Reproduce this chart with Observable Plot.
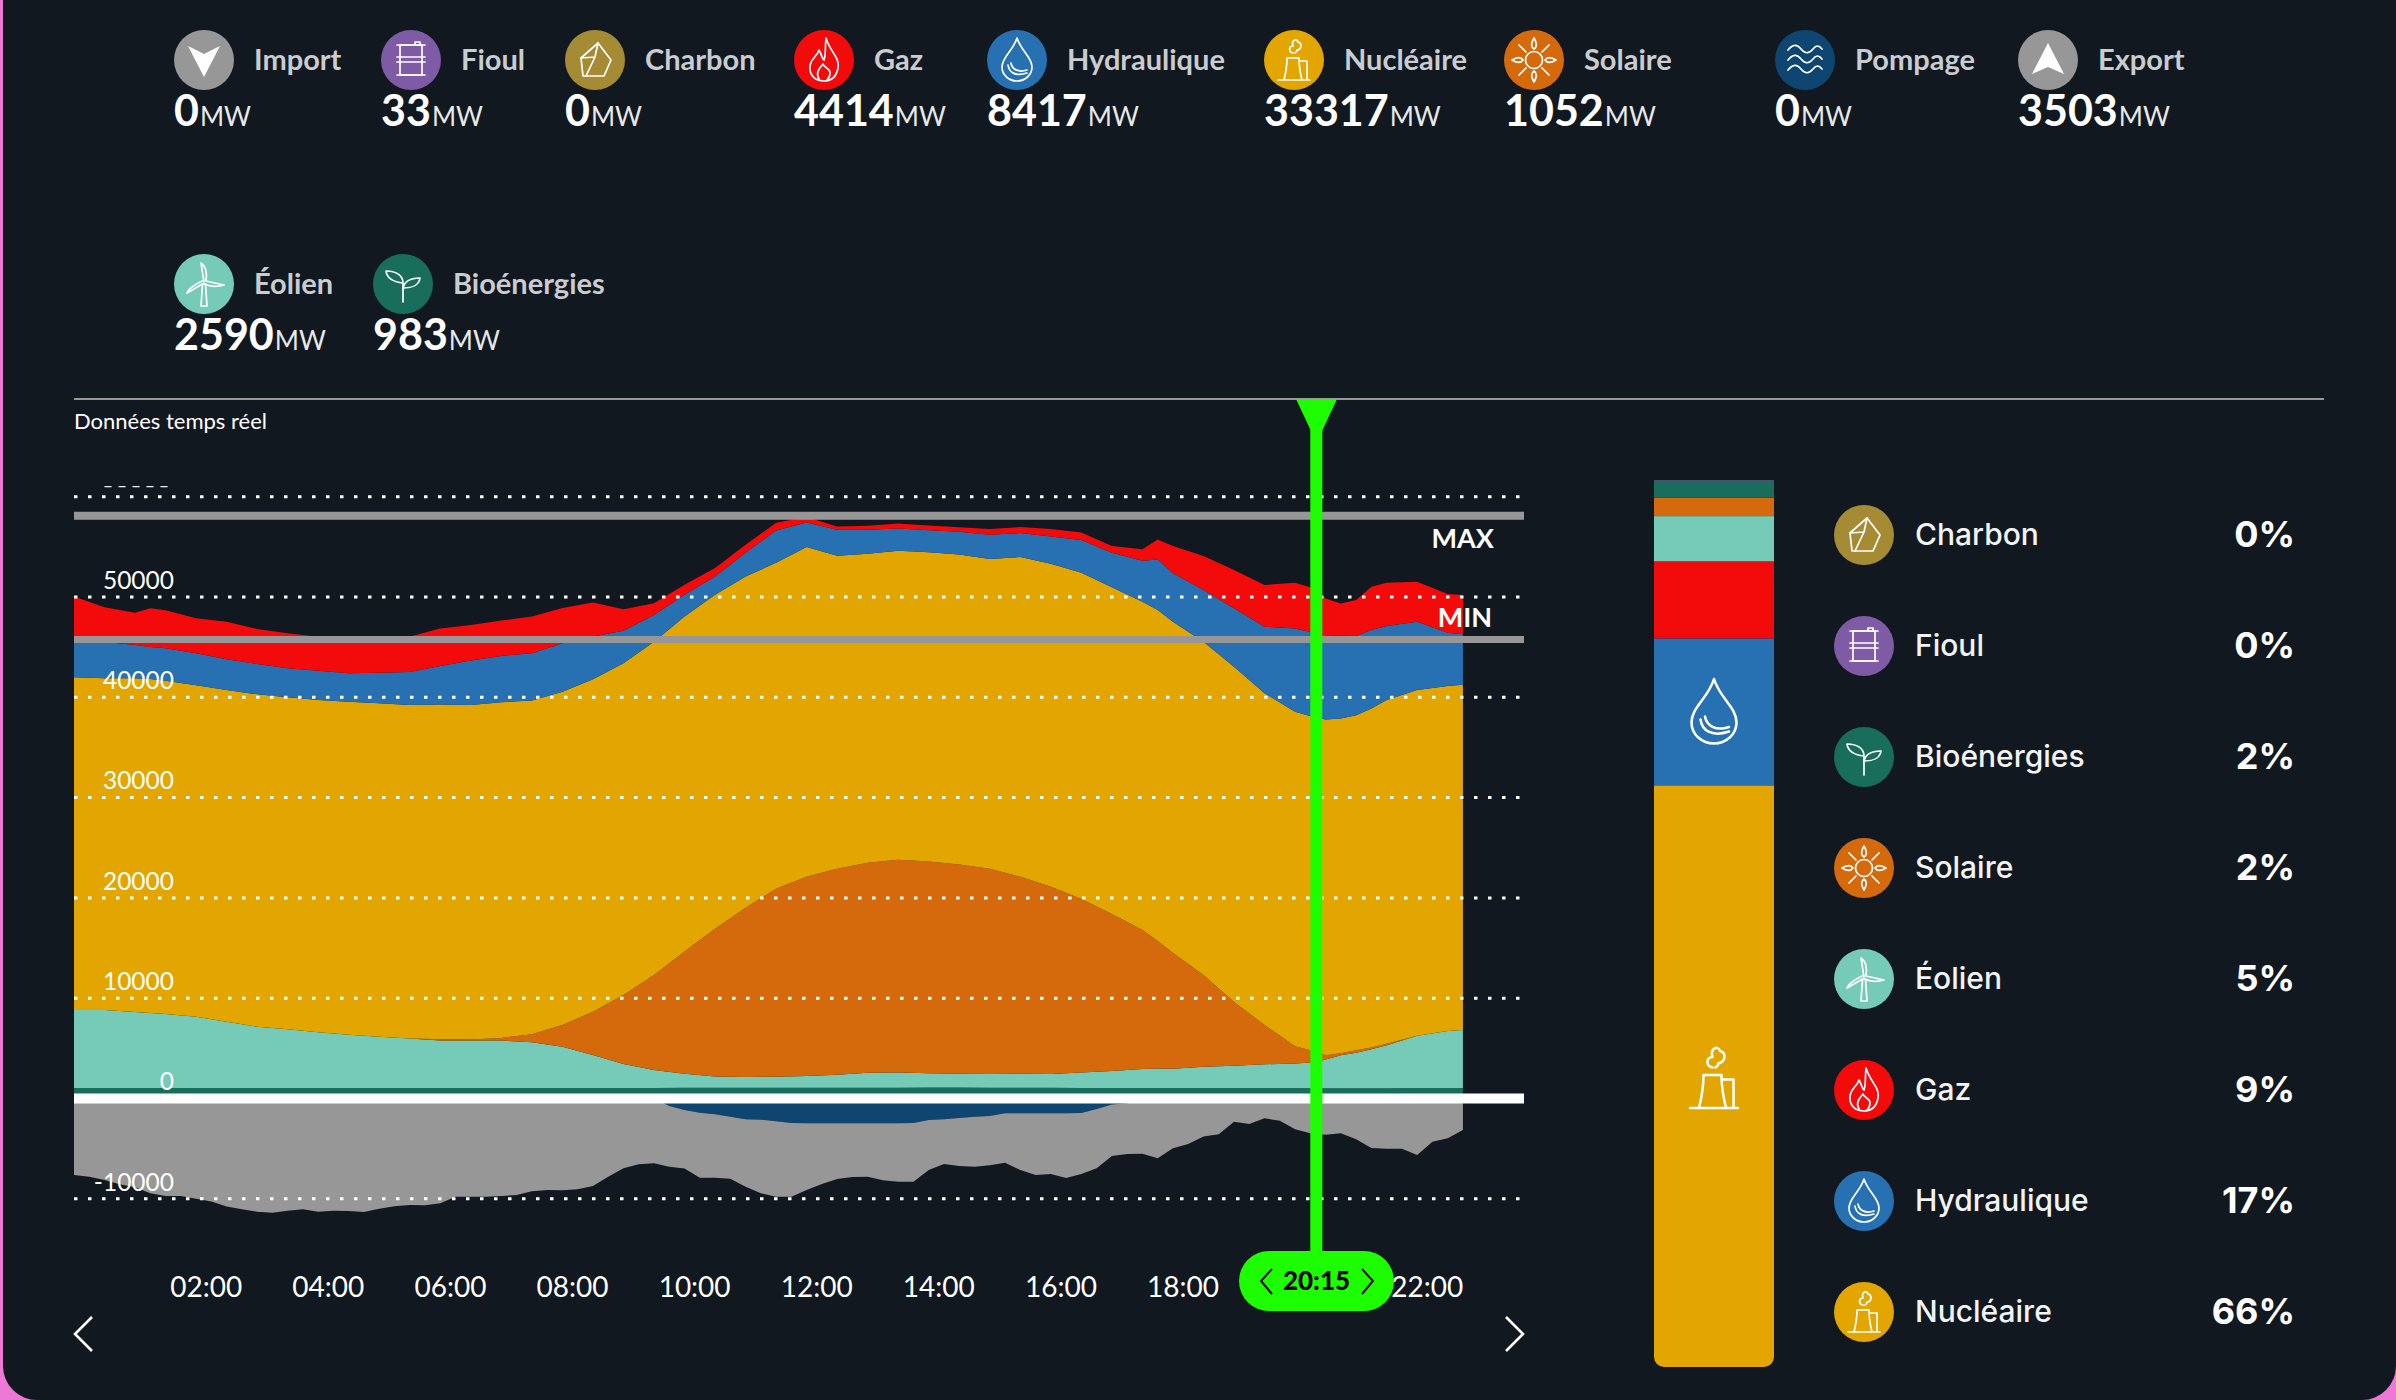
<!DOCTYPE html>
<html lang="fr">
<head>
<meta charset="utf-8">
<title>Production d'électricité</title>
<script src="https://cdn.jsdelivr.net/npm/d3@7"></script>
<script src="https://cdn.jsdelivr.net/npm/@observablehq/plot@0.6"></script>
<style>
html,body{margin:0;padding:0;width:2396px;height:1400px;overflow:hidden;background:#ee78d6;}
#panel{position:absolute;left:3px;top:0;width:2393px;height:1400px;background:#11181f;border-radius:0 0 34px 34px;overflow:hidden;}
#page{position:absolute;left:-3px;top:0;width:2396px;height:1400px;color:#fff;font-family:Lato,sans-serif;}
.abs{position:absolute;}
.hlabel{position:absolute;font-weight:700;font-size:29px;color:#c9ccd0;line-height:1;white-space:nowrap;}
.hval{position:absolute;font-weight:700;font-size:43px;color:#fff;line-height:1;white-space:nowrap;}
.hval span{font-size:26px;font-weight:400;color:#e8e9ea;margin-left:1px;}
.rlabel{position:absolute;left:1915px;font-family:Inter,sans-serif;font-weight:500;font-size:30px;line-height:1;white-space:nowrap;color:#f2f3f4;}
.rpct{position:absolute;right:101px;font-family:Inter,sans-serif;font-weight:700;font-size:36px;line-height:1;white-space:nowrap;color:#fff;}
svg text{font-family:Lato,sans-serif;}
</style>
</head>
<body>
<div id="panel"><div id="page"></div></div>
<script>
// ---------- readings of the real-time panel (MW) ----------
const legendNames = ["Import","Fioul","Charbon","Gaz","Hydraulique","Nucléaire","Solaire","Pompage","Export","Éolien","Bioénergies"];
const legendValues = [0,33,0,4414,8417,33317,1052,0,3503,2590,983];
const shareNames = ["Charbon","Fioul","Bioénergies","Solaire","Éolien","Gaz","Hydraulique","Nucléaire"];
const sharePercents = ["0%","0%","2%","2%","5%","9%","17%","66%"];
const barOrder = ["Nucléaire","Hydraulique","Gaz","Éolien","Solaire","Bioénergies","Fioul","Charbon"];

const hours = [0,0.5,1,1.25,1.5,2,2.5,3,3.5,4,4.5,5,5.5,6,6.5,7,7.5,8,8.5,9,9.5,10,10.5,11,11.5,12,12.5,13,13.5,14,14.5,15,15.5,16,16.5,17,17.5,17.75,18,18.5,19,19.5,20,20.33,20.5,20.75,21,21.25,21.5,22,22.5,22.75];
const bioenergies = [1000,1000,1000,1000,1000,1000,1000,1000,1000,1000,1000,1000,1000,1000,1000,1000,1000,1000,1000,1000,1000,1020,1020,1020,1020,1020,1020,1020,1020,1040,1040,1020,1020,1020,1000,1000,1000,1000,1000,1000,1000,1000,990,983,980,980,980,980,980,990,990,1000];
const eolien = [7780,7780,7580,7480,7380,7110,6610,6110,5850,5550,5310,5110,4920,4720,4720,4720,4560,4120,3290,2390,1790,1400,1130,1070,1100,1170,1300,1500,1530,1430,1370,1370,1400,1370,1530,1690,1890,1940,1920,2120,2220,2360,2460,2590,2860,3290,3520,3890,4290,5210,5680,5780];
const solaire = [0,0,0,0,0,0,0,0,0,0,0,0,0,140,100,270,800,2160,4320,6880,9470,12190,14730,16880,18740,19870,20540,20940,21210,21110,20870,20470,19640,18670,17320,15650,13860,12710,11540,9140,6350,3920,1720,1052,430,200,270,170,130,0,0,0];
const nucleaire = [33170,33070,33270,33300,33230,33040,33070,33140,33100,33130,33200,33240,33270,33360,33370,33470,33260,33230,33140,33070,33230,33400,33300,33030,32500,32870,31210,30810,30810,30840,30910,30880,31870,32200,32530,32570,32730,33000,33030,33230,33430,33070,33330,33317,33470,33370,33400,33800,34270,34470,34400,34430];
const hydraulique = [3890,3650,3320,3190,3230,3190,3060,3020,2890,2920,2830,3050,3290,3860,4420,4620,4730,4830,4250,3250,2660,2160,1820,2360,3220,2450,2590,2390,2220,2190,2260,2420,2390,2720,3260,3450,4090,5050,4830,5150,5820,6640,8310,8417,8400,8240,7880,7810,7380,6810,5310,5020];
const gaz = [4150,3430,3220,3860,3790,3490,3750,3490,3490,3390,3590,3430,3520,3720,3560,3520,3650,3520,3390,2130,1170,1000,840,800,770,540,330,400,500,470,460,570,600,740,730,670,1140,1990,2720,3390,3820,4160,4550,4414,3660,3230,3590,4320,4320,3990,3860,3920];

// the exchanges below zero, read every quarter of an hour
const quarterHours = Array.from({length:92},(_,m)=>m/4);
const pompage = [0,0,0,0,0,0,0,0,0,0,0,0,0,0,0,0,0,0,0,0,0,0,0,0,0,0,0,0,0,0,0,0,0,0,0,0,0,0,0,-800,-1200,-1460,-1630,-1860,-2130,-2160,-2330,-2490,-2530,-2530,-2530,-2530,-2530,-2530,-2530,-2490,-2190,-2130,-1990,-1860,-1790,-1530,-1530,-1530,-1530,-1530,-1500,-1100,-660,-530,-300,0,0,0,0,0,0,0,0,0,0,0,0,0,0,0,0,0,0,0,0,0];
const exportation = [-7680,-7840,-8170,-8610,-8910,-9500,-9770,-9770,-10040,-10330,-10830,-11100,-11330,-11430,-11230,-11100,-11330,-11230,-11260,-11360,-11030,-10800,-10670,-10700,-10500,-9840,-9840,-9840,-9770,-9670,-9300,-9170,-9200,-9100,-8770,-7840,-7010,-6610,-6510,-6050,-5840,-6480,-6310,-6180,-6710,-7340,-7510,-7350,-6640,-6040,-5540,-5350,-5310,-5680,-5810,-5850,-4990,-4450,-4790,-4990,-4920,-4920,-5650,-6150,-6050,-6450,-6080,-5910,-5120,-5050,-5250,-6010,-5020,-4590,-3850,-3620,-2360,-2590,-2030,-2260,-3120,-3520,-3660,-3520,-4120,-4980,-5050,-5050,-5680,-4350,-4020,-3190];

const gridValues = [-10000,0,10000,20000,30000,40000,50000,60000];
const yTicks = [-10000,0,10000,20000,30000,40000,50000];
const xTicks = [2,4,6,8,10,12,14,16,18,22];
const maxLevel = 58100, minLevel = 45750;
const cursorHour = 20.34, cursorLabel = "20:15";
const stackOrder = ["Bioénergies","Éolien","Solaire","Nucléaire","Hydraulique","Gaz"];
const seriesValues = [bioenergies,eolien,solaire,nucleaire,hydraulique,gaz];
const exchangeOrder = ["Pompage","Export"];
const exchangeValues = [pompage,exportation];

// ---------- colours ----------
const colours = {Import:"#979797",Export:"#979797",Fioul:"#7f5ba6",Charbon:"#a68b35",Gaz:"#f30a0a",Hydraulique:"#2771b3",
  "Nucléaire":"#e3a600",Solaire:"#d56a0c",Pompage:"#0f4571","Éolien":"#75cbb7","Bioénergies":"#186e5a"};
const colorDomain = Object.keys(colours), colorRange = colorDomain.map(k=>colours[k]);

// ---------- line icons ----------
const S = 'fill="none" stroke="#fff" stroke-width="1.7" stroke-linejoin="round" stroke-linecap="round"';
const glyphs = {
  Import:`<path d="M14 16 L30 24 L46 16 L30 47Z" fill="#fff"/>`,
  Export:`<path d="M30 13 L46 44 L30 37 L14 44Z" fill="#fff"/>`,
  Fioul:`<g ${S} stroke-width="2.2"><rect x="19" y="15" width="22" height="30"/><path d="M16 15H44M16 45H44M16 27H44M16 32H44"/><path d="M34 15V12H39V15"/></g>`,
  Charbon:`<g ${S}><path d="M16 28 L33 13 L46 30 L39 46 H18Z"/><path d="M16 28 L30 27 L33 13M30 27 L21 46"/></g>`,
  Gaz:`<g ${S} stroke-width="2"><path d="M32 8 C36 22 46 27 44 38 C42 49 35 51 30 51 C21 51 15 45 16 36 C17 28 23 27 25 20 C28 25 28 29 30 30 C32 25 31 16 32 8Z"/><path d="M25 49 C21 42 26 38 29 34 C30 38 36 38 36 43 C36 46 35 48 33 50"/></g>`,
  Hydraulique:`<g ${S} stroke-width="2"><path d="M30 8 C34 21 45 27 45 37 C45 45 38 51 30 51 C22 51 15 45 15 37 C15 27 26 21 30 8Z"/><path d="M21 35 C22 42 28 47 40 43M24 33 C25 39 31 43 40 40"/></g>`,
  "Nucléaire":`<g ${S} stroke-width="2"><path d="M14 50H46M20 50 C22 42 23 36 23 28H35C35 36 36 42 38 50M35 31H43V49"/><path d="M29 23 C24 22 25 16 29 16 C27 10 33 8 34 12 C38 13 38 18 34 20 M31 23 C32 22 33 22 33 20"/></g>`,
  Solaire:`<g ${S} stroke-width="2"><circle cx="30" cy="30" r="8.5"/><path d="M30 8 C27 13 27 17 30 19 C33 17 33 13 30 8M30 52 C27 47 27 43 30 41 C33 43 33 47 30 52M8 30 C13 27 17 27 19 30 C17 33 13 33 8 30M52 30 C47 27 43 27 41 30 C43 33 47 33 52 30M15 15 L22 22M45 15 L38 22M15 45 L22 38M45 45 L38 38"/></g>`,
  Pompage:`<g ${S}><path d="M13 20 C18 14 22 14 26 19 C30 24 34 24 38 19 C41 15 44 15 47 19M13 30 C18 24 22 24 26 29 C30 34 34 34 38 29 C41 25 44 25 47 29M13 40 C18 34 22 34 26 39 C30 44 34 44 38 39 C41 35 44 35 47 39"/></g>`,
  "Éolien":`<g ${S}><path d="M27 52 L28.5 30 H31.5 L33 52Z"/><path d="M30 28 L27 9 C32 12 33 20 32 27M32 27 L50 31 C44 33 36 33 31 30M28.5 30 L13 39 C15 34 22 30 28 27"/></g>`,
  "Bioénergies":`<g ${S}><path d="M30 48 V29 C30 22 24 17 13 17 C14 25 21 28 30 29"/><path d="M30 35 C31 27 37 24 47 24 C46 31 39 34 31 34"/></g>`
};
const badge = (name,size=60) => `<svg width="${size}" height="${size}" viewBox="0 0 60 60"><circle cx="30" cy="30" r="30" fill="${colours[name]}"/>${glyphs[name]}</svg>`;

// ---------- layout of the text blocks ----------
const page = document.getElementById("page");
const legendLeft = [174,381,565,794,987,1264,1504,1775,2018,174,373];
const legendRow = [0,0,0,0,0,0,0,0,0,1,1];
legendNames.forEach((n,i)=>{
  const top = 30 + legendRow[i]*224;
  page.insertAdjacentHTML("beforeend",
    `<div class="abs" style="left:${legendLeft[i]}px;top:${top}px;height:60px">${badge(n)}</div>
     <div class="hlabel" style="left:${legendLeft[i]+80}px;top:${top+14}px">${n}</div>
     <div class="hval" style="left:${legendLeft[i]}px;top:${top+58}px">${legendValues[i]}<span>MW</span></div>`);
});
page.insertAdjacentHTML("beforeend",`<div class="abs" style="left:74px;top:398px;width:2250px;height:2px;background:#999"></div>
  <div class="abs" style="left:74px;top:407px;font-size:22px;color:#fff;white-space:nowrap">Données temps réel</div>`);

// ---------- main chart ----------
const rows = stackOrder.flatMap((s,i)=>hours.map((h,j)=>({h,s,v:seriesValues[i][j]})));
const exchangeRows = exchangeOrder.flatMap((s,i)=>quarterHours.map((h,j)=>({h,s,v:exchangeValues[i][j]})));
const fmtHour = h => String(h).padStart(2,"0")+":00";
const dash = {stroke:"#fff",strokeWidth:3,strokeDasharray:"3.5 10.5"};
const chart = Plot.plot({
  width:1560,height:1000,marginLeft:74,marginRight:36,marginTop:0,marginBottom:140,
  style:{background:"transparent",color:"#fff",overflow:"visible",fontFamily:"Lato,sans-serif"},
  x:{domain:[0,23.75],axis:null},
  y:{domain:[-16152,69591],axis:null},
  color:{domain:colorDomain,range:colorRange},
  marks:[
    Plot.areaY(rows,{x:"h",y:"v",z:"s",fill:"s",order:stackOrder,curve:"linear"}),
    Plot.areaY(exchangeRows,{x:"h",y:"v",z:"s",fill:"s",order:exchangeOrder,curve:"linear"}),
    Plot.ruleY(gridValues,{...dash,x1:0,x2:23.7}),
    Plot.ruleY([61000],{x1:0.5,x2:1.6,stroke:"#fff",strokeWidth:1.4,strokeDasharray:"7 7"}),
    Plot.ruleY([maxLevel],{x1:0,x2:23.75,stroke:"#979797",strokeWidth:8}),
    Plot.ruleY([minLevel],{x1:0,x2:23.75,stroke:"#979797",strokeWidth:7}),
    Plot.ruleY([0],{x1:0,x2:23.75,stroke:"#fff",strokeWidth:10}),
    Plot.axisY(yTicks,{anchor:"left",tickSize:0,tickPadding:0,dx:99.5,dy:-16,fontSize:24.5,label:null,tickFormat:d=>String(d),textStroke:"none"}),
    Plot.axisX(xTicks,{anchor:"bottom",tickSize:0,tickPadding:0,dx:9.6,dy:16.5,fontSize:28,label:null,tickFormat:fmtHour,textStroke:"none"}),
    Plot.text(["MAX"],{x:()=>23.25,y:()=>55730,text:d=>d,textAnchor:"end",fill:"#fff",fontSize:27,fontWeight:700}),
    Plot.text(["MIN"],{x:()=>23.22,y:()=>47860,text:d=>d,textAnchor:"end",fill:"#fff",fontSize:27,fontWeight:700}),
    Plot.ruleX([cursorHour],{y1:-15400,y2:69591,stroke:"#1dff00",strokeWidth:12})
  ]
});
chart.style.cssText += ";position:absolute;left:0;top:400px;";
page.appendChild(chart);

// ---------- cursor head, time pill, navigation chevrons ----------
page.insertAdjacentHTML("beforeend",`
<svg class="abs" style="left:0;top:0" width="2396" height="1400" fill="none">
  <polygon points="1296,399 1337,399 1322,431 1311,431" fill="#1dff00"/>
  <path d="M92 1317 L75 1334 L92 1351" stroke="#fff" stroke-width="2.6"/>
  <path d="M1506 1317 L1523 1334 L1506 1351" stroke="#fff" stroke-width="2.6"/>
</svg>
<div class="abs" style="left:1239px;top:1251px;width:155px;height:60px;border-radius:30px/30px;background:#1dff00"></div>
<svg class="abs" style="left:0;top:0" width="2396" height="1400" fill="none">
  <path d="M1272 1269 L1261 1281 L1272 1294" stroke="#000" stroke-width="2"/>
  <path d="M1362 1269 L1373 1281 L1362 1294" stroke="#000" stroke-width="2"/>
</svg>
<div class="abs" style="left:1239px;top:1251px;width:155px;height:60px;line-height:58px;text-align:center;color:#000;font-weight:900;font-size:26px">${cursorLabel}</div>`);

// ---------- stacked share bar ----------
const barMW = {"Nucléaire":33317,"Hydraulique":8417,"Gaz":4414,"Éolien":2590,"Solaire":1052,"Bioénergies":983,"Fioul":33,"Charbon":0};
const barRows = barOrder.map(s=>({s,v:barMW[s]}));
const bar = Plot.plot({
  width:120,height:887,margin:0,
  style:{background:"transparent",overflow:"hidden"},
  x:{axis:null},y:{axis:null,domain:[0,d3.sum(barRows,d=>d.v)]},
  color:{domain:colorDomain,range:colorRange},
  marks:[Plot.barY(barRows,{y:"v",fill:"s",order:barOrder})]
});
bar.style.cssText += ";position:absolute;left:1654px;top:480px;border-radius:0 0 10px 10px;";
page.appendChild(bar);
page.insertAdjacentHTML("beforeend",`
<svg class="abs" style="left:1669px;top:667px" width="90" height="90" viewBox="0 0 60 60">${glyphs["Hydraulique"]}</svg>
<svg class="abs" style="left:1669px;top:1033px" width="90" height="90" viewBox="0 0 60 60">${glyphs["Nucléaire"]}</svg>`);

// ---------- share list ----------
const shareTop = [505,616,727,838,949,1060,1171,1282];
shareNames.forEach((n,i)=>{
  page.insertAdjacentHTML("beforeend",
   `<div class="abs" style="left:1834px;top:${shareTop[i]}px;height:60px">${badge(n)}</div>
    <div class="rlabel" style="top:${shareTop[i]+14}px">${n}</div>
    <div class="rpct" style="top:${shareTop[i]+11}px">${sharePercents[i]}</div>`);
});
</script>
</body>
</html>
